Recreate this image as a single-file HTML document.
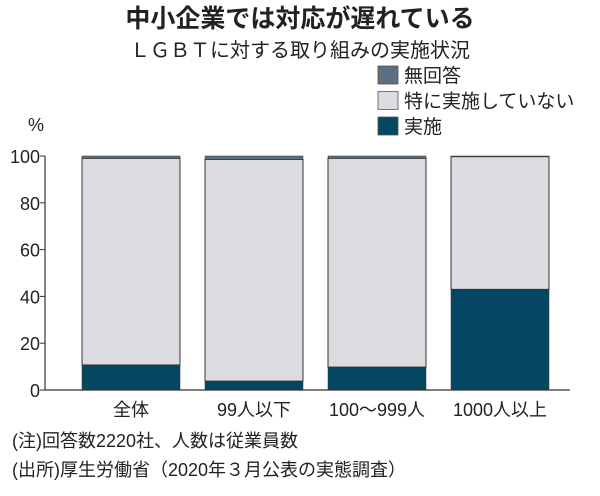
<!DOCTYPE html>
<html><head><meta charset="utf-8"><style>
body{margin:0;background:#fff;width:600px;height:491px;overflow:hidden;font-family:"Liberation Sans","Noto Sans CJK JP",sans-serif;color:#222}
svg text{font-family:"Liberation Sans","Noto Sans CJK JP",sans-serif;fill:#222}
</style></head><body>
<svg width="600" height="491">
<text x="300" y="27" text-anchor="middle" font-size="25" font-weight="bold">中小企業では対応が遅れている</text>
<text x="300" y="57" text-anchor="middle" font-size="20">ＬＧＢＴに対する取り組みの実施状況</text>
<g id="legend"></g>
<text x="28" y="131" font-size="18">%</text>
<g id="plot"></g>
<text x="12" y="447" font-size="18">(注)回答数2220社、人数は従業員数</text>
<text x="12" y="476" font-size="18">(出所)厚生労働省（2020年３月公表の実態調査）</text>
</svg>
<script>
const categories=["全体","99人以下","100～999人","1000人以上"];
const implemented=[10.7,3.8,9.8,43];
const notImplemented=[88.3,94.7,89.2,56.7];
const noAnswer=[1,1.5,1,0.3];
const yTicks=[0,20,40,60,80,100];
const seriesNames=["無回答","特に実施していない","実施"];
const colors=["#5a6f80","#dcdce0","#054663"];
const NS="http://www.w3.org/2000/svg";
const plot=document.getElementById('plot'),legend=document.getElementById('legend');
const y0=390,y100=156,xL=45,xR=570;
const y=v=>y0-(y0-y100)*v/100;
const x=i=>82+i*123;
const bw=98;
function mk(t,a,p){const e=document.createElementNS(NS,t);for(const k in a)e.setAttribute(k,a[k]);(p||plot).appendChild(e);return e;}
yTicks.forEach(t=>{
 const tk=mk('line',{x1:xL-5,x2:xL,y1:y(t),y2:y(t),stroke:'#333','stroke-width':1});
 
 
 const l=mk('text',{x:xL-5,y:y(t)+7,'text-anchor':'end','font-size':18});
 
 
 l.textContent=t;
});
categories.forEach((c,i)=>{
 const segs=[implemented[i],notImplemented[i],noAnswer[i]],cols=[colors[2],colors[1],colors[0]],names=['bar-implemented','bar-not-implemented','bar-no-answer'];
 let acc=0;
 segs.forEach((v,j)=>{
  const r=mk('rect',{x:x(i),y:y(acc+v),width:bw,height:y(acc)-y(acc+v),fill:cols[j],stroke:'#333','stroke-width':j==1?1:0.5});
  
  
  acc+=v;
 });
 const l=mk('text',{x:x(i)+bw/2,y:416,'text-anchor':'middle','font-size':18});
 
 
 l.textContent=c;
});
const ax=mk('line',{x1:xL,x2:xL,y1:y100,y2:y0,stroke:'#333','stroke-width':1.2});


const bx=mk('line',{x1:xL,x2:xR,y1:y0,y2:y0,stroke:'#333','stroke-width':1.2});


seriesNames.forEach((n,i)=>{
 const r=mk('rect',{x:378,y:66+i*25.5,width:20,height:18,fill:colors[i],stroke:'#555','stroke-width':0.8},legend);
 
 
 const t=mk('text',{x:404,y:82+i*25.5,'font-size':19},legend);
 
 
 t.textContent=n;
});
</script>
</body></html>
